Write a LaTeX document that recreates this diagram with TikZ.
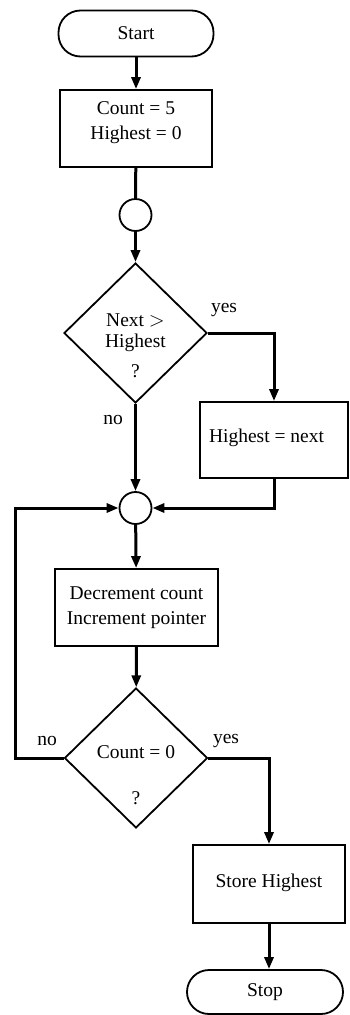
\documentclass[tikz,border=0pt]{standalone}
\usepackage{fontspec}
\setmainfont{Liberation Serif}
\usetikzlibrary{shapes.geometric,arrows.meta}
% text block shifted down by #1 (pt) without changing the node's reported height
\newcommand\txblock[2]{\raisebox{-#1pt}[0pt][0pt]{\begin{tabular}{@{}c@{}}#2\end{tabular}}}
\begin{document}
\begin{tikzpicture}[x=1pt,y=-1pt,
  every node/.style={font=\fontsize{19.5}{25}\selectfont},
  outl/.style={draw,line width=1.8pt,inner sep=0pt},
  term/.style={outl,rectangle,rounded corners=22pt,minimum width=155pt,minimum height=46pt},
  proc/.style={outl,rectangle,minimum height=77pt},
  junc/.style={outl,circle,minimum size=32pt},
  dec/.style={outl,diamond,minimum width=143pt,minimum height=140pt},
  flow/.style={line width=3pt,-{Triangle[length=12pt,width=9pt]}},
  plainline/.style={line width=3pt},
  lab/.style={inner sep=0pt}
]
\useasboundingbox (0,0) rectangle (349,1015);

\node[term] (start) at (136,33.5) {Start};
\node[proc,minimum width=152pt] (init) at (136,128.5) {\txblock{-1}{Count = 5\\Highest = 0}};
\node[junc] (c1) at (135.5,215) {};
\node[dec] (d1) at (135.5,333) {\txblock{19.5}{Next $>$\\[-4pt]Highest\\[5pt]?}};
\node[proc,minimum width=148pt,minimum height=76pt] (hn) at (274,440) {\txblock{3}{Highest = next}\hspace*{15pt}};
\node[junc] (c2) at (135.5,508) {};
\node[proc,minimum width=163pt] (dec2) at (136.5,607.5) {\txblock{5}{Decrement count\\Increment pointer}};
\node[dec] (d2) at (136,758) {\txblock{24}{Count = 0\\[21pt]?}};
\node[proc,minimum width=152pt,minimum height=78pt] (store) at (269,884) {\txblock{4}{Store Highest}};
\node[term,minimum width=156pt,minimum height=44pt] (stop) at (265,992) {Stop};

\coordinate (lp) at (15,758);

\node[lab] (yes1) at (224,310) {yes};
\node[lab] (no1) at (113,420) {no};
\node[lab] (no2) at (47,741) {no};
\node[lab] (yes2) at (226,741) {yes};

\draw[flow] (start) -- (init);
\draw[plainline] (init) -- (c1);
\draw[flow] (c1) -- (d1);
\draw[flow] (d1.east) -| (hn.north);
\draw[flow] (d1.south) -- (c2.north);
\draw[flow] (hn.south) |- (c2.east);
\draw[flow] (d2.west) -- (lp) |- (c2.west);
\draw[flow] (c2) -- (dec2);
\draw[flow] (dec2) -- (d2);
\draw[flow] (d2.east) -| (store.north);
\draw[flow] (store.south) -- (store.south |- stop.north);
\end{tikzpicture}
\end{document}
